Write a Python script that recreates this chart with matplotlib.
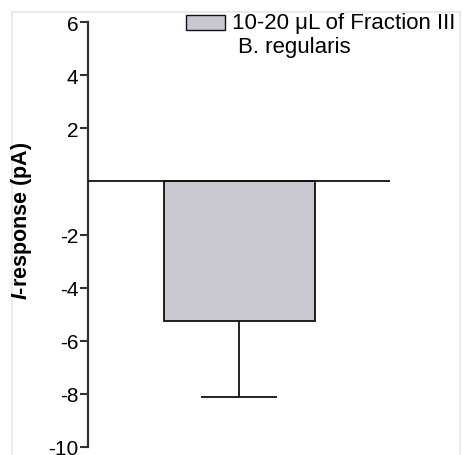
import matplotlib
matplotlib.use("Agg")
import matplotlib.pyplot as plt
from matplotlib.lines import Line2D
from matplotlib.patches import Rectangle

plt.rcParams['font.family'] = ['Liberation Sans', 'DejaVu Sans']
plt.rcParams['mathtext.fontset'] = 'custom'
plt.rcParams['mathtext.bfit'] = 'Liberation Sans:bold:italic'
plt.rcParams['mathtext.it'] = 'Liberation Sans:italic'
plt.rcParams['mathtext.rm'] = 'Liberation Sans'

categories = ["10-20 μL of Fraction III"]
subtitle = "B. regularis"
values = [-5.26]
errors_low = [2.86]
yticks = [-10, -8, -6, -4, -2, 2, 4, 6]

W, H = 463, 456
fig = plt.figure(figsize=(W / 100, H / 100), dpi=100)
ax = fig.add_axes([88 / W, (H - 448) / H, (390 - 88) / W, (448 - 23) / H])

bar_color = "#c8c8d0"
ax.bar([1], values, width=1.0, color=bar_color, edgecolor="#111111", linewidth=1.3, zorder=2)
eb = ax.errorbar([1], values, yerr=[errors_low, [0]], fmt="none", ecolor="#111111",
                 elinewidth=1.3, capsize=27.5, capthick=1.3, zorder=3)
caplines = eb[1]
if len(caplines) > 1:
    caplines[1].set_visible(False)

ax.axhline(0, color="#111111", linewidth=1.3, zorder=4)

ax.set_xlim(0, 2)
ax.set_ylim(-10, 6)
ax.set_yticks(yticks)
ax.set_yticklabels([str(t) for t in yticks])
ax.set_xticks([])
for s in ["top", "right", "bottom"]:
    ax.spines[s].set_visible(False)
ax.spines["left"].set_color("#333333")
ax.spines["left"].set_linewidth(1.6)
ax.tick_params(axis="y", direction="out", length=6, width=1.5, color="#333333",
               labelsize=15, pad=1)

fig.text(22 / W, 1 - 221 / H, r"$\mathbfit{I}$-response (pA)", rotation=90,
         ha="center", va="center", fontsize=15.5, fontweight="bold")

# legend (patch + two text lines)
fig.add_artist(Rectangle((186 / W, 1 - 31 / H), 39 / W, 15 / H, transform=fig.transFigure,
                         facecolor=bar_color, edgecolor="#111111", linewidth=1.0))
fig.text(232 / W, 1 - 24 / H, categories[0], ha="left", va="center", fontsize=16)
fig.text(238 / W, 1 - 48 / H, subtitle, ha="left", va="center", fontsize=16)

# faint frame
fig.add_artist(Line2D([12 / W, 12 / W], [0, 1 - 13 / H], color="#e6e6e6", linewidth=1.2))
fig.add_artist(Line2D([12 / W, 460 / W], [1 - 13 / H, 1 - 13 / H], color="#e6e6e6", linewidth=1.2))
fig.add_artist(Line2D([460 / W, 460 / W], [0, 1 - 13 / H], color="#e6e6e6", linewidth=1.2))

fig.savefig("out.png", dpi=100)
